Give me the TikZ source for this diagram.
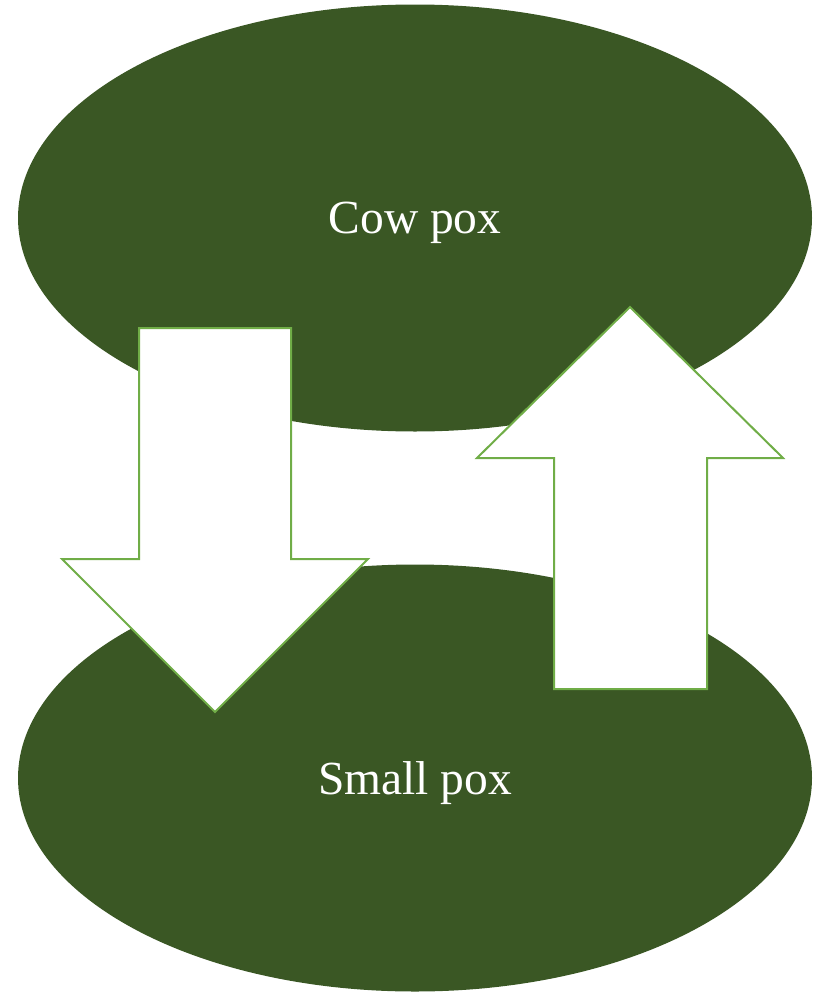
\documentclass[tikz,border=0pt]{standalone}
\usepackage{fontspec}
\setmainfont{Liberation Serif}
\usetikzlibrary{shapes.geometric}
\definecolor{darkg}{HTML}{3A5724}
\definecolor{lightg}{HTML}{70AD47}
\tikzset{
  blob/.style={ellipse, fill=darkg, draw=none, inner sep=0pt, minimum width=794pt, minimum height=427pt, text=white, text depth=0pt, font=\fontsize{47.5}{56}\selectfont},
  bigarrow/.style={fill=white, draw=lightg, line width=2pt, line join=miter}
}
\begin{document}
\begin{tikzpicture}[x=1pt,y=-1pt]
\useasboundingbox (0,0) rectangle (818,993);
\node[blob] (cow) at (415,218) {Cow pox};
\node[blob] (small) at (415,778) {Small pox};
\draw[bigarrow] (139,328) -- (291,328) -- (291,559) -- (368,559) -- (215,712) -- (62,559) -- (139,559) -- cycle;
\draw[bigarrow] (630,307) -- (783,458) -- (707,458) -- (707,689) -- (554,689) -- (554,458) -- (477,458) -- cycle;
\end{tikzpicture}
\end{document}
